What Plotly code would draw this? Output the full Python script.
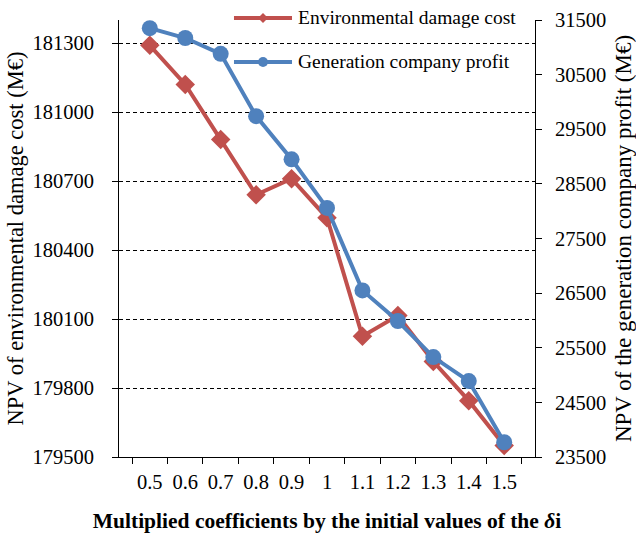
import plotly.graph_objects as go

# Sensitivity of the two NPV results to the multiplier applied to the initial δi values
coefficients = ["0.5", "0.6", "0.7", "0.8", "0.9", "1", "1.1", "1.2", "1.3", "1.4", "1.5"]
damage_cost = [181290, 181120, 180880, 180640, 180710, 180540, 180025, 180115, 179915, 179745, 179550]
company_profit = [31350, 31170, 30880, 29740, 28950, 28060, 26550, 25990, 25330, 24890, 23770]

series_names = ["Environmental damage cost", "Generation company profit"]
RED = "#C0504D"
BLUE = "#4F81BD"
SERIF = "Liberation Serif"

fig = go.Figure()
fig.add_trace(go.Scatter(
    x=coefficients, y=damage_cost, name=series_names[0], mode="lines+markers",
    line=dict(color=RED, width=4),
    marker=dict(symbol="diamond", size=15, color=RED),
    yaxis="y", showlegend=False, cliponaxis=False,
))
fig.add_trace(go.Scatter(
    x=coefficients, y=company_profit, name=series_names[1], mode="lines+markers",
    line=dict(color=BLUE, width=4),
    marker=dict(symbol="circle", size=16, color=BLUE),
    yaxis="y2", showlegend=False, cliponaxis=False,
))

# Hand-built legend: short line sample with a small marker, then the label
legend_x0, legend_x1, legend_mid, legend_text_x = 0.2764, 0.4159, 0.3462, 0.4255
legend_rows = [(1.0046, RED, "diamond"), (0.9039, BLUE, "circle")]
shapes = []
annotations = []
for (ly, color, sym), label in zip(legend_rows, series_names):
    shapes.append(dict(type="line", xref="paper", yref="paper",
                       x0=legend_x0, x1=legend_x1, y0=ly, y1=ly,
                       line=dict(color=color, width=4)))
    if sym == "diamond":
        shapes.append(dict(type="path", xref="paper", yref="paper",
                           xsizemode="pixel", ysizemode="pixel",
                           xanchor=legend_mid, yanchor=ly,
                           path="M0,5 L5,0 L0,-5 L-5,0 Z",
                           fillcolor=color, line=dict(color=color, width=0)))
    else:
        shapes.append(dict(type="circle", xref="paper", yref="paper",
                           xsizemode="pixel", ysizemode="pixel",
                           xanchor=legend_mid, yanchor=ly,
                           x0=-5, x1=5, y0=-5, y1=5,
                           fillcolor=color, line=dict(color=color, width=0)))
    annotations.append(dict(xref="paper", yref="paper", x=legend_text_x, y=ly,
                            xanchor="left", yanchor="middle", showarrow=False,
                            text=label, font=dict(family=SERIF, size=19.5, color="#000")))

fig.update_layout(
    width=636, height=533,
    margin=dict(l=119, r=101, t=20, b=76, autoexpand=False),
    paper_bgcolor="white", plot_bgcolor="white",
    font=dict(family=SERIF, size=20.5, color="#000"),
    showlegend=False,
    shapes=shapes,
    annotations=annotations,
    xaxis=dict(
        type="category", tickson="boundaries", automargin=False,
        showline=True, linecolor="#000", linewidth=1,
        ticks="outside", ticklen=6, tickcolor="#000",
        showgrid=False, zeroline=False, ticklabelstandoff=6,
        title=dict(text="<b>Multiplied coefficients by the initial values of the <i>δ</i>i</b>",
                   font=dict(family=SERIF, size=21.5), standoff=22),
    ),
    yaxis=dict(
        range=[179500, 181400], tick0=179500, dtick=300, tickformat="d",
        automargin=False,
        showline=True, linecolor="#000", linewidth=1,
        ticks="outside", ticklen=6, tickcolor="#000",
        showgrid=True, gridcolor="#000", gridwidth=1, griddash="4px,3px",
        zeroline=False, ticklabelstandoff=14,
        title=dict(text="NPV of environmental damage cost (M€)",
                   font=dict(family=SERIF, size=22.5), standoff=2),
    ),
    yaxis2=dict(
        overlaying="y", side="right",
        range=[23500, 31500], tick0=23500, dtick=1000, tickformat="d",
        automargin=False,
        showline=True, linecolor="#000", linewidth=1,
        ticks="outside", ticklen=6, tickcolor="#000",
        showgrid=False, zeroline=False, ticklabelstandoff=9,
        title=dict(text="NPV of the generation company profit (M€)",
                   font=dict(family=SERIF, size=23), standoff=9),
    ),
)

fig.write_html("out.html")
